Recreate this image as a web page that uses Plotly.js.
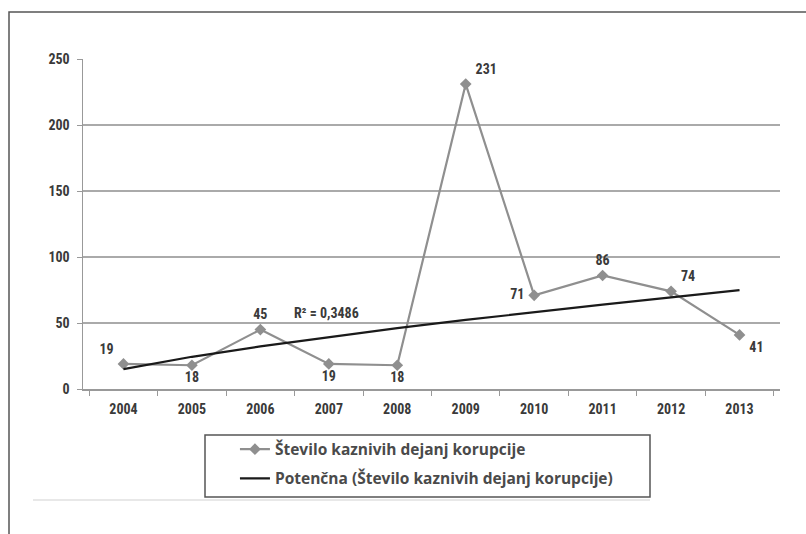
<!DOCTYPE html>
<html>
<head>
<meta charset="utf-8">
<script src="https://cdn.plot.ly/plotly-3.0.1.min.js"></script>
<style>html,body{margin:0;padding:0;background:#fff;}#chart{width:806px;height:534px;}</style>
</head>
<body>
<div id="chart"></div>
<script>
var years = ["2004","2005","2006","2007","2008","2009","2010","2011","2012","2013"];
var cases = [19, 18, 45, 19, 18, 231, 71, 86, 74, 41];
var trend = [15.1, 24.4, 32.3, 39.4, 46.1, 52.3, 58.2, 63.9, 69.4, 74.9];
var labelPos = ["top left","bottom center","top center","bottom center","bottom center","top right","middle left","top center","top right","bottom right"];
var seriesName = "Število kaznivih dejanj korupcije";
var trendName = "Potenčna (Število kaznivih dejanj korupcije)";
var r2Text = "R² = 0,3486";

var FONT = "'Liberation Sans Narrow', 'Roboto Condensed', 'Open Sans', sans-serif";
var LFONT = "'Open Sans', Roboto, sans-serif";
var TXT = "#3a3a3a";

var traces = [
  {
    x: years, y: cases, name: seriesName, type: "scatter", mode: "lines+markers+text",
    legendgroup: "a",
    text: cases.map(function(v){ return " " + v + " "; }), textposition: labelPos,
    textfont: {family: FONT, size: 14, color: TXT, weight: "bold"},
    line: {color: "#8f8f8f", width: 2.2},
    marker: {symbol: "diamond", size: 9, color: "#8f8f8f"},
    cliponaxis: false
  },
  {
    x: years, y: trend, name: trendName, type: "scatter", mode: "lines",
    legendgroup: "b",
    line: {color: "#1a1a1a", width: 2.2}
  }
];

var layout = {
  width: 806, height: 534,
  margin: {l: 83, r: 26, t: 59, b: 145},
  paper_bgcolor: "#fff", plot_bgcolor: "#fff",
  font: {family: FONT, size: 13, color: TXT, weight: "bold"},
  showlegend: true,
  legend: {
    x: 0.218, y: -0.132, xanchor: "left", yanchor: "top",
    bgcolor: "rgba(0,0,0,0)", borderwidth: 0,
    font: {family: LFONT, size: 15.5, color: "#4a4a4a", weight: "bold"},
    tracegroupgap: 6, itemwidth: 30
  },
  xaxis: {
    type: "category", tickson: "boundaries", ticks: "outside", ticklen: 5,
    tickcolor: "#999", showline: true, linecolor: "#999", linewidth: 1.5,
    showgrid: false, zeroline: false, ticklabelstandoff: 7,
    tickfont: {family: FONT, size: 14, color: TXT, weight: "bold"},
    fixedrange: true
  },
  yaxis: {
    range: [0, 250], tickvals: [0, 50, 100, 150, 200, 250],
    ticks: "outside", ticklen: 5, tickcolor: "#999",
    showline: true, linecolor: "#999", linewidth: 1.5,
    showgrid: true, gridcolor: "#aaaaaa", gridwidth: 1.2, zeroline: false,
    ticklabelstandoff: 4,
    tickfont: {family: FONT, size: 14, color: TXT, weight: "bold"},
    fixedrange: true
  },
  annotations: [
    {xref: "x", yref: "y", x: 2.97, y: 50, text: r2Text, showarrow: false,
     xanchor: "center", yanchor: "bottom", yshift: 0,
     font: {family: FONT, size: 14, color: TXT, weight: "bold"}}
  ],
  shapes: [
    {type: "rect", xref: "paper", yref: "paper",
     x0: (205-83)/697, x1: (650-83)/697, y0: (389-497)/330, y1: (389-435)/330,
     line: {color: "#555", width: 1.5}, fillcolor: "rgba(0,0,0,0)", layer: "below"},
    {type: "line", xref: "paper", yref: "paper",
     x0: (33-83)/697, x1: (650-83)/697, y0: (389-500)/330, y1: (389-500)/330,
     line: {color: "#e8e8e8", width: 2}},
    {type: "rect", xref: "paper", yref: "paper",
     x0: (9-83)/697, x1: (830-83)/697, y0: (389-560)/330, y1: (389-12)/330,
     line: {color: "#555", width: 1.5}, fillcolor: "rgba(0,0,0,0)"}
  ]
};

Plotly.newPlot("chart", traces, layout, {displayModeBar: false, staticPlot: true});
</script>
</body>
</html>
